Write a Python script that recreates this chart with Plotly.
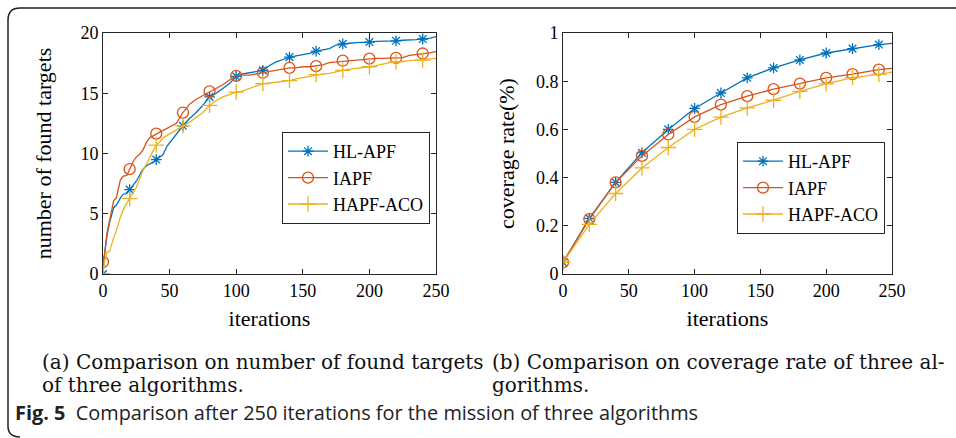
import plotly.graph_objects as go

# ---------- data: (a) number of found targets ----------
iters_a = [0, 1, 3, 5, 8, 10, 13, 15, 18, 20, 23, 25, 28, 30, 33, 35, 38, 40, 43, 45, 48, 50,
           55, 60, 65, 70, 75, 80, 85, 90, 95, 100, 105, 110, 115, 120, 125, 130, 135, 140,
           145, 150, 155, 160, 165, 170, 175, 180, 185, 190, 195, 200, 205, 210, 215, 220,
           225, 230, 235, 240, 245, 250]
hl_apf_a = [0, 1.5, 3.2, 4.3, 5.5, 5.7, 6.3, 6.6, 6.7, 7.0, 7.4, 7.7, 8.3, 8.7, 9.0, 9.1, 9.3, 9.5,
            9.7, 9.9, 10.6, 10.9, 11.6, 12.3, 12.9, 13.4, 14.0, 14.7, 15.0, 15.4, 15.8, 16.4,
            16.6, 16.7, 16.8, 16.9, 17.3, 17.6, 17.8, 18.0, 18.1, 18.2, 18.3, 18.5, 18.6, 18.7,
            19.0, 19.1, 19.15, 19.2, 19.2, 19.25, 19.3, 19.3, 19.35, 19.35, 19.4, 19.4, 19.45,
            19.5, 19.55, 19.7]
iapf_a = [1.0, 1.5, 3.4, 4.5, 6.1, 6.3, 7.8, 8.1, 8.2, 8.7, 9.4, 9.7, 10.0, 10.3, 11.0, 11.3, 11.5,
          11.65, 11.8, 11.9, 12.1, 12.2, 12.5, 13.4, 14.1, 14.5, 14.8, 15.15, 15.4, 15.7, 16.1,
          16.45, 16.5, 16.5, 16.6, 16.7, 16.8, 16.95, 17.0, 17.1, 17.1, 17.2, 17.2, 17.25, 17.35,
          17.55, 17.6, 17.7, 17.75, 17.8, 17.85, 17.87, 17.9, 17.9, 17.9, 17.93, 17.95, 18.15,
          18.2, 18.3, 18.35, 18.45]
hapf_aco_a = [0, 1.0, 1.8, 1.9, 3.0, 3.6, 4.7, 5.3, 5.9, 6.25, 6.8, 7.2, 8.0, 8.6, 9.2, 9.7, 10.3,
              10.7, 11.0, 11.3, 11.5, 11.6, 11.9, 12.3, 12.6, 13.0, 13.4, 14.0, 14.4, 14.7, 14.9,
              15.1, 15.2, 15.4, 15.6, 15.8, 15.85, 15.9, 16.0, 16.05, 16.2, 16.3, 16.4, 16.55,
              16.6, 16.65, 16.8, 16.9, 17.0, 17.05, 17.1, 17.2, 17.3, 17.45, 17.55, 17.6, 17.65,
              17.7, 17.72, 17.75, 17.8, 17.9]
marker_iters = [0, 20, 40, 60, 80, 100, 120, 140, 160, 180, 200, 220, 240]

# ---------- data: (b) coverage rate ----------
iters_b = [0, 20, 40, 60, 80, 100, 120, 140, 160, 180, 200, 220, 240, 250]
hl_apf_b = [0.048, 0.231, 0.38, 0.503, 0.600, 0.687, 0.751, 0.814, 0.855, 0.888, 0.917, 0.935, 0.952, 0.957]
iapf_b = [0.048, 0.228, 0.38, 0.490, 0.579, 0.652, 0.703, 0.738, 0.767, 0.790, 0.814, 0.829, 0.848, 0.853]
hapf_aco_b = [0.048, 0.206, 0.334, 0.440, 0.525, 0.600, 0.651, 0.689, 0.721, 0.758, 0.789, 0.815, 0.828, 0.838]

x_ticks = [0, 50, 100, 150, 200, 250]
y_ticks_a = [0, 5, 10, 15, 20]
y_ticks_b = [0, 0.2, 0.4, 0.6, 0.8, 1]

names = ["HL-APF", "IAPF", "HAPF-ACO"]
colors = ["#0072BD", "#D95319", "#EDB120"]
symbols = ["asterisk-open", "circle-open", "cross-thin-open"]
sizes = [9, 11, 11]

W, H = 956, 438
SERIF = "Liberation Serif"

fig = go.Figure()


def add_series(xs, ys, xaxis, yaxis, legend, idx):
    c = colors[idx]
    fig.add_trace(go.Scatter(x=xs, y=ys, mode="lines", line=dict(color=c, width=1.3),
                             xaxis=xaxis, yaxis=yaxis, showlegend=False, hoverinfo="skip"))
    mx = [x for x in xs if x in marker_iters]
    my = [y for x, y in zip(xs, ys) if x in marker_iters]
    fig.add_trace(go.Scatter(x=mx, y=my, mode="markers",
                             marker=dict(symbol=symbols[idx], size=sizes[idx], color=c,
                                         line=dict(color=c, width=1.3)),
                             xaxis=xaxis, yaxis=yaxis, showlegend=False))
    fig.add_trace(go.Scatter(x=[None], y=[None], mode="lines+markers", name=names[idx],
                             line=dict(color=c, width=1.3),
                             marker=dict(symbol=symbols[idx], size=sizes[idx], color=c,
                                         line=dict(color=c, width=1.3)),
                             xaxis=xaxis, yaxis=yaxis, legend=legend))


for i, ys in enumerate([hl_apf_a, iapf_a, hapf_aco_a]):
    add_series(iters_a, ys, "x", "y", "legend", i)
for i, ys in enumerate([hl_apf_b, iapf_b, hapf_aco_b]):
    add_series(iters_b, ys, "x2", "y2", "legend2", i)

axis_common = dict(showline=True, linecolor="#262626", linewidth=1, mirror="ticks",
                   ticks="inside", ticklen=5, tickcolor="#262626", showgrid=False,
                   zeroline=False, automargin=False,
                   tickfont=dict(family=SERIF, size=18, color="#000"))

xt_font = dict(family=SERIF, size=22, color="#000")
yt_font = dict(family=SERIF, size=22, color="#000")
ydom = [1 - 274 / H, 1 - 33 / H]
fig.update_layout(
    width=W, height=H, margin=dict(l=0, r=0, t=0, b=0, pad=0, autoexpand=False),
    paper_bgcolor="white", plot_bgcolor="white",
    xaxis=dict(domain=[103 / W, 436 / W], range=[0, 250], tickvals=x_ticks,
               title=dict(text="iterations", font=xt_font, standoff=11),
               anchor="y", **axis_common),
    yaxis=dict(domain=ydom, range=[0, 20], tickvals=y_ticks_a,
               title=dict(text="number of found targets", font=yt_font, standoff=22),
               anchor="x", **axis_common),
    xaxis2=dict(domain=[563 / W, 892 / W], range=[0, 250], tickvals=x_ticks,
                title=dict(text="iterations", font=xt_font, standoff=11),
                anchor="y2", **axis_common),
    yaxis2=dict(domain=ydom, range=[0, 1], tickvals=y_ticks_b,
                title=dict(text="coverage rate(%)", font=yt_font, standoff=15),
                anchor="x2", **axis_common),
    legend=dict(x=282 / W, y=1 - 132 / H, xanchor="left", yanchor="top",
                bgcolor="white", bordercolor="#262626", borderwidth=1,
                font=dict(family=SERIF, size=18, color="#000"), itemwidth=40, tracegroupgap=0),
    legend2=dict(x=737 / W, y=1 - 142 / H, xanchor="left", yanchor="top",
                 bgcolor="white", bordercolor="#262626", borderwidth=1,
                 font=dict(family=SERIF, size=18, color="#000"), itemwidth=40, tracegroupgap=0),
)

# frame with rounded corners (top and left edges)
fig.add_shape(type="path", xref="paper", yref="paper",
              path=(f"M 1 {1 - 8 / H} L {20 / W} {1 - 8 / H} Q {8 / W} {1 - 8 / H} {8 / W} {1 - 20 / H} "
                    f"L {8 / W} {1 - 426 / H} Q {8 / W} {1 - 437 / H} {20 / W} {1 - 437 / H}"),
              line=dict(color="#222", width=1.5))

CAP = "DejaVu Serif"
caps = [
    ("(a) Comparison on number of found targets", 40, 362),
    ("of three algorithms.", 40, 385),
    ("(b) Comparison on coverage rate of three al-", 490, 362),
    ("gorithms.", 490, 385),
]
for txt, x, y in caps:
    fig.add_annotation(text=txt, x=x / W, y=1 - y / H, xref="paper", yref="paper",
                       xanchor="left", yanchor="middle", showarrow=False,
                       font=dict(family=CAP, size=20, color="#111"))

fig.add_annotation(text="<b>Fig. 5</b>  Comparison after 250 iterations for the mission of three algorithms",
                   x=13 / W, y=1 - 412 / H, xref="paper", yref="paper", xanchor="left",
                   yanchor="middle", showarrow=False,
                   font=dict(family="Open Sans", size=19.9, color="#222"))

fig.write_html("out.html",
               post_script="document.body.style.margin='0';document.body.style.overflow='hidden';")
